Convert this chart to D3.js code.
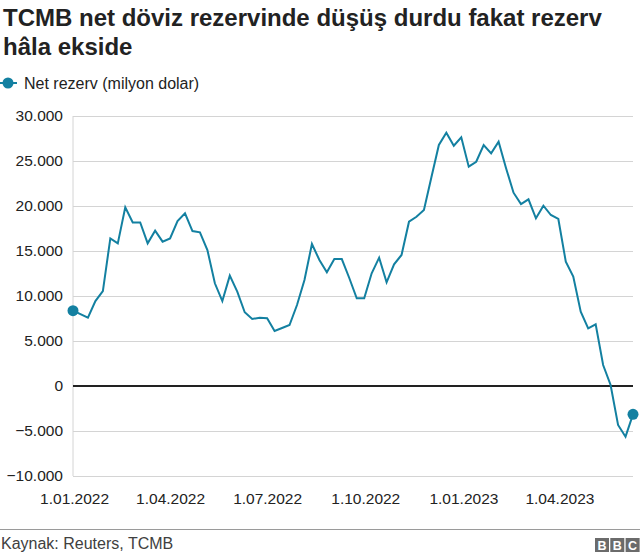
<!DOCTYPE html>
<html><head><meta charset="utf-8">
<script src="https://cdn.jsdelivr.net/npm/d3@7"></script>
<style>
html,body{margin:0;padding:0;background:#fff;}
svg{display:block;font-family:"Liberation Sans",Arial,Helvetica,sans-serif;}
</style></head>
<body><svg id="c" width="640" height="557"></svg>
<script>
const titleLines = ["TCMB net döviz rezervinde düşüş durdu fakat rezerv", "hâla ekside"];
const seriesName = "Net rezerv (milyon dolar)";
const sourceText = "Kaynak: Reuters, TCMB";
const dates = ["2021-12-31","2022-01-14","2022-01-21","2022-01-28","2022-02-04","2022-02-11","2022-02-18","2022-02-25",
"2022-03-04","2022-03-11","2022-03-18","2022-03-25","2022-04-01","2022-04-08","2022-04-15","2022-04-22","2022-04-29",
"2022-05-06","2022-05-13","2022-05-20","2022-05-27","2022-06-03","2022-06-10","2022-06-17","2022-06-24",
"2022-07-01","2022-07-08","2022-07-15","2022-07-22","2022-07-29","2022-08-05","2022-08-12","2022-08-19","2022-08-26",
"2022-09-02","2022-09-09","2022-09-16","2022-09-23","2022-09-30","2022-10-07","2022-10-14","2022-10-21","2022-10-28",
"2022-11-04","2022-11-11","2022-11-18","2022-11-25","2022-12-02","2022-12-09","2022-12-16","2022-12-23","2022-12-30",
"2023-01-06","2023-01-13","2023-01-20","2023-01-27","2023-02-03","2023-02-10","2023-02-17","2023-02-24",
"2023-03-03","2023-03-10","2023-03-17","2023-03-24","2023-03-31","2023-04-07","2023-04-14","2023-04-21","2023-04-28",
"2023-05-05","2023-05-12","2023-05-19","2023-05-26","2023-06-02","2023-06-09"];
const values = [8370,7590,9440,10550,16400,15850,19850,18180,18180,15850,17260,16040,16400,18330,19190,17220,17070,
15110,11410,9440,12260,10480,8190,7440,7590,7520,6110,6440,6780,9000,11780,15780,14000,12630,14110,14110,12000,
9740,9740,12520,14260,11520,13520,14560,18260,18810,19560,23200,26780,28150,26700,27630,24370,24920,26780,25850,
27150,24200,21480,20220,20740,18630,20040,19000,18560,13810,12150,8260,6410,6850,2330,110,-4330,-5630,-3150];
const yTicks = [-10000,-5000,0,5000,10000,15000,20000,25000,30000];
const xTickDates = ["2022-01-01","2022-04-01","2022-07-01","2022-10-01","2023-01-01","2023-04-01"];

const parse = d3.timeParse("%Y-%m-%d");
const data = dates.map((d,i)=>({date:parse(d), value:values[i]}));
const svg = d3.select("#c");
const W = 640, H = 557;
const m = {left:73, right:7, top:116, bottom:81};
const x = d3.scaleTime().domain(d3.extent(data,d=>d.date)).range([m.left, W-m.right]);
const y = d3.scaleLinear().domain([-10000,30000]).range([H-m.bottom, m.top]);
const loc = d3.formatLocale({decimal:",", thousands:".", grouping:[3], currency:["",""]});
const fmt = loc.format(",d");
const textCol = "#222222";
const lineCol = "#1380A1";

// title
svg.append("g").selectAll("text").data(titleLines).join("text")
  .attr("x",3).attr("y",(d,i)=>26+i*29)
  .attr("font-size",24).attr("font-weight","bold").attr("fill","#222").text(d=>d);

// legend
const lg = svg.append("g").attr("transform","translate(0,83)");
lg.append("line").attr("x1",0).attr("x2",17).attr("stroke",lineCol).attr("stroke-width",2);
lg.append("circle").attr("cx",8).attr("r",5.5).attr("fill",lineCol);
lg.append("text").attr("x",24).attr("y",5.5).attr("font-size",16).attr("fill",textCol).text(seriesName);

// y grid + axis
const yAxis = d3.axisLeft(y).tickValues(yTicks).tickFormat(fmt).tickSize(-(W-m.right-m.left)).tickPadding(10);
const yg = svg.append("g").attr("transform",`translate(${m.left},0)`).call(yAxis);
yg.select(".domain").remove();
yg.selectAll(".tick line").attr("stroke","#d4d4d4").attr("stroke-width",1);
yg.selectAll(".tick text").attr("font-size",15.5).attr("fill",textCol).attr("font-family","Liberation Sans, Arial, sans-serif");
// left vertical line
svg.append("line").attr("x1",m.left).attr("x2",m.left).attr("y1",y(30000)).attr("y2",y(-10000))
  .attr("stroke","#d4d4d4").attr("stroke-width",1);

// x axis labels
const xAxis = d3.axisBottom(x).tickValues(xTickDates.map(parse)).tickFormat(d3.timeFormat("%-d.%m.%Y")).tickSize(0).tickPadding(17);
const xg = svg.append("g").attr("transform",`translate(0,${y(-10000)})`).call(xAxis);
xg.select(".domain").remove();
xg.selectAll(".tick text").attr("font-size",15.5).attr("fill",textCol).attr("font-family","Liberation Sans, Arial, sans-serif");

// zero line
svg.append("line").attr("x1",m.left).attr("x2",W-m.right).attr("y1",y(0)).attr("y2",y(0))
  .attr("stroke","#222").attr("stroke-width",2);

// series
const line = d3.line().x(d=>x(d.date)).y(d=>y(d.value));
svg.append("path").datum(data).attr("d",line).attr("fill","none").attr("stroke",lineCol)
  .attr("stroke-width",2).attr("stroke-linejoin","miter");
svg.append("g").selectAll("circle").data([data[0], data[data.length-1]]).join("circle")
  .attr("cx",d=>x(d.date)).attr("cy",d=>y(d.value)).attr("r",5.5).attr("fill",lineCol);

// footer
svg.append("line").attr("x1",0).attr("x2",W).attr("y1",529.5).attr("y2",529.5).attr("stroke","#9a9a9a").attr("stroke-width",1);
svg.append("text").attr("x",1).attr("y",549).attr("font-size",16).attr("fill","#404040").text(sourceText);
const logo = svg.append("g").attr("transform","translate(595,538)");
["B","B","C"].forEach((ch,i)=>{
  logo.append("rect").attr("x",i*15.3).attr("y",0).attr("width",14).attr("height",14).attr("fill","#6b6b6b");
  logo.append("text").attr("x",i*15.3+7).attr("y",11.5).attr("text-anchor","middle").attr("font-size",12.5)
    .attr("font-weight","bold").attr("fill","#fff").text(ch);
});
</script></body></html>
